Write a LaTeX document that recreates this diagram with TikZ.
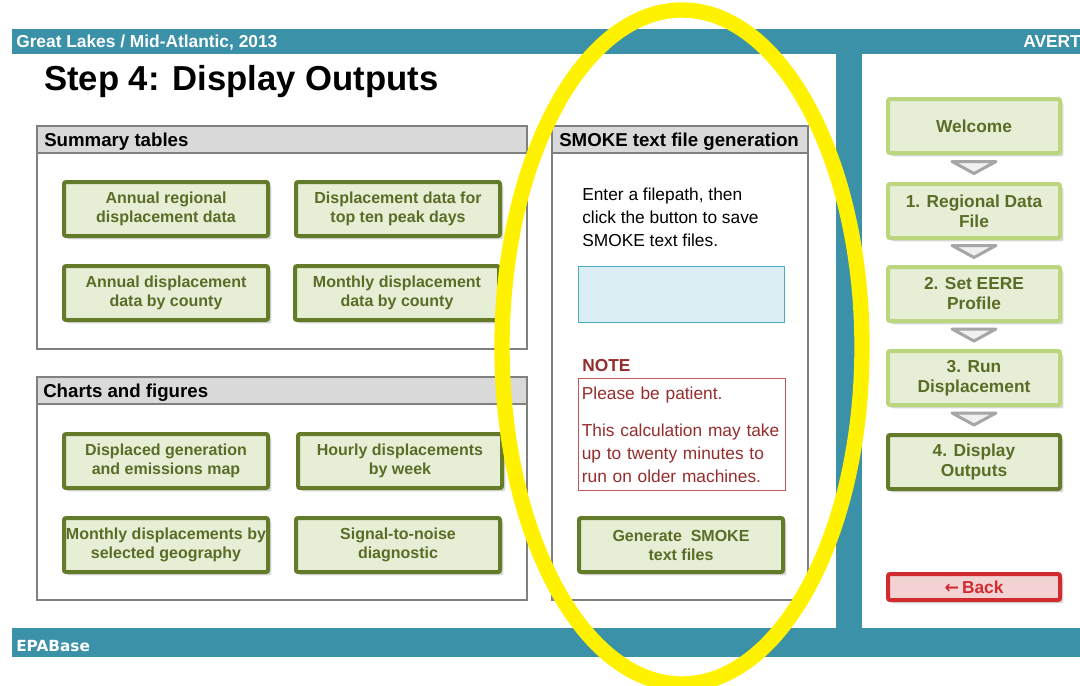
\documentclass[tikz,border=0pt]{standalone}
\usepackage{fontspec}
\setmainfont{Liberation Sans}
\newfontfamily\epafont{DejaVu Sans}
\usepackage{xcolor}
\usepackage{tikz}
\usetikzlibrary{positioning}
\usetikzlibrary{calc}
\usetikzlibrary{shadows}

\definecolor{avertteal}{RGB}{58,145,168}
\definecolor{btnfill}{RGB}{230,238,214}
\definecolor{btndark}{RGB}{100,124,42}
\definecolor{navline}{RGB}{187,214,124}
\definecolor{btntext}{RGB}{90,108,38}
\definecolor{hdrgray}{RGB}{217,217,217}
\definecolor{boxgray}{RGB}{128,128,128}
\definecolor{notered}{RGB}{150,45,45}
\definecolor{noteline}{RGB}{192,90,90}
\definecolor{pathfill}{RGB}{218,238,243}
\definecolor{pathline}{RGB}{75,172,198}
\definecolor{backred}{RGB}{208,44,48}
\definecolor{backfill}{RGB}{242,210,210}
\definecolor{trigray}{RGB}{166,166,166}
\definecolor{trifill}{RGB}{240,240,240}

\begin{document}
\begin{tikzpicture}[x=0.75pt, y=-0.75pt,
    every node/.style={inner sep=0pt},
    btn/.style={draw=btndark, line width=3pt, fill=btnfill, rounded corners=1.5pt,
        minimum width=153pt, minimum height=40.5pt, inner xsep=1pt, align=center,
        text=btntext, font=\bfseries\fontsize{12}{14.25}\selectfont,
        drop shadow={opacity=0.3, shadow xshift=2.5pt, shadow yshift=-2.5pt}},
    nav/.style={btn, draw=navline, minimum width=129pt, font=\bfseries\fontsize{13}{15}\selectfont},
    navnow/.style={nav, draw=btndark},
    backbtn/.style={nav, draw=backred, fill=backfill, text=backred, minimum height=19.5pt},
    panel/.style={draw=boxgray, line width=1.5pt},
    headtext/.style={anchor=base west, font=\bfseries\fontsize{14}{16}\selectfont},
    bartext/.style={anchor=base west, text=white, font=\bfseries\fontsize{13}{15}\selectfont},
    bodytext/.style={anchor=north west, align=left, font=\fontsize{13}{17.25}\selectfont},
    navtri/.style={draw=trigray, fill=trifill, line width=2.25pt, line join=round}]

    \useasboundingbox (0,0) rectangle (1080,685);
    \fill[white] (0,0) rectangle (1080,685);

    % frame bars
    \fill[avertteal] (12,29) rectangle (1080,54);
    \fill[avertteal] (836,54) rectangle (862,628);
    \fill[avertteal] (12,628) rectangle (1080,657);
    \node[bartext] (region) at (16,48) {Great Lakes / Mid-Atlantic, 2013};
    \node[bartext] (avert) at (1023,48) {AVERT};
    \node[bartext, font=\epafont\bfseries\fontsize{11.5}{13}\selectfont] (epabase) at (16,651) {EPABase};

    \node[anchor=base west, font=\bfseries\fontsize{26}{30}\selectfont] (title) at (44,90) {Step 4: Display Outputs};

    % summary tables
    \draw[panel] (37,126) rectangle (527,349);
    \filldraw[panel, fill=hdrgray] (37,126) rectangle (527,153);
    \node[headtext] (sumhead) at (44,146) {Summary tables};
    \node[btn] (annreg) at (166,209) {Annual regional\\displacement data};
    \node[btn] (peak) at (398,209) {Displacement data for\\top ten peak days};
    \node[btn] (anncty) at (166,293) {Annual displacement\\data by county};
    \node[btn] (moncty) at (397,293) {Monthly displacement\\data by county};

    % charts and figures
    \draw[panel] (37,377) rectangle (527,600);
    \filldraw[panel, fill=hdrgray] (37,377) rectangle (527,404);
    \node[headtext] (charthead) at (43,397) {Charts and figures};
    \node[btn] (map) at (166,461) {Displaced generation\\and emissions map};
    \node[btn] (hourly) at (400,461) {Hourly displacements\\by week};
    \node[btn] (geo) at (166,545) {Monthly displacements by\\selected geography};
    \node[btn] (noise) at (398,545) {Signal-to-noise\\diagnostic};

    % smoke panel
    \draw[panel] (552,126) rectangle (808,600);
    \filldraw[panel, fill=hdrgray] (552,126) rectangle (808,153);
    \node[headtext] (smokehead) at (559,146) {SMOKE text file generation};
    \node[bodytext] (enter) at (582,188) {Enter a filepath, then\\click the button to save\\SMOKE text files.};
    \node[draw=pathline, line width=0.75pt, fill=pathfill, minimum width=155pt, minimum height=42pt] (filepath) at (681.5,294) {};
    \node[anchor=base west, text=notered, font=\bfseries\fontsize{13}{15}\selectfont] (notehead) at (582,371) {NOTE};
    \node[draw=noteline, line width=0.75pt, anchor=north west, minimum width=155pt, minimum height=84pt,
        text width=150pt, align=left, text=notered, font=\fontsize{13}{17.25}\selectfont] (note) at (578,378)
        {Please be patient.\\[10.5pt]This calculation may take\\up to twenty minutes to\\run on older machines.};
    \node[btn] (generate) at (681,545) {Generate\ \ SMOKE\\text files};

    % step navigation
    \node[nav] (welcome) at (974,126) {Welcome};
    \node[nav] (step1) at (974,211) {1. Regional Data\\File};
    \node[nav] (step2) at (974,294) {2. Set EERE\\Profile};
    \node[nav] (step3) at (974,378) {3. Run\\Displacement};
    \node[navnow] (step4) at (974,462) {4. Display\\Outputs};
    \node[backbtn] (back) at (974,587) {{\epafont\bfseries ←}\,Back};
    \foreach \a/\b in {welcome/step1, step1/step2, step2/step3, step3/step4} {
        \coordinate (m) at ($(\a.south)!0.5!(\b.north)$);
        \draw[navtri] ($(m)+(-22,-7)$) -- ($(m)+(22,-7)$) -- ($(m)+(0,5)$) -- cycle;
    }

    % highlight
    \draw[yellow, line width=11.5pt] (682,347) ellipse [x radius=180, y radius=337];
\end{tikzpicture}
\end{document}
